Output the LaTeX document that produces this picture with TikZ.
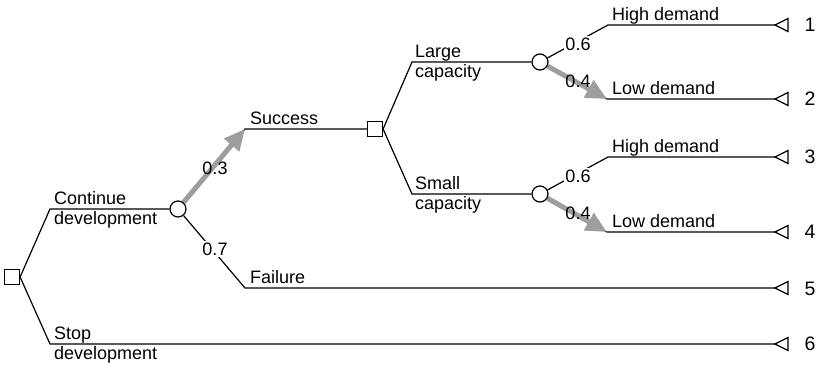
\documentclass[tikz,border=0pt]{standalone}
\usepackage{fontspec}
\setmainfont{Liberation Sans}
\usetikzlibrary{arrows.meta}
\pgfdeclarelayer{bg}
\pgfsetlayers{bg,main}
\definecolor{probgray}{RGB}{158,158,158}
\tikzset{
  txt/.style={font=\fontsize{18}{20}\selectfont, inner sep=0pt},
  outcome/.style={font=\fontsize{19.5}{22}\selectfont, inner sep=0pt},
  decision/.style={draw, rectangle, minimum size=15pt, inner sep=0pt, fill=white, line width=1.2pt},
  chance/.style={draw, circle, minimum size=16pt, inner sep=0pt, fill=white, line width=1.2pt},
  branch/.style={line width=1.2pt},
  terminal/.style={line width=1.2pt, fill=white},
  likely/.style={draw=probgray, line width=5pt, -{Triangle[length=21pt,width=19pt]}},
  prob/.style={txt, inner sep=1.5pt},
  probcut/.style={prob, fill=white},
}
\begin{document}
\begin{tikzpicture}[x=1pt, y=-1pt]
\useasboundingbox (0,0) rectangle (820,368);

% decision and chance nodes
\node[decision] (d0) at (12,277) {};
\node[chance]   (c1) at (178,209) {};
\node[decision] (d1) at (375,129) {};
\node[chance]   (c2) at (540,62) {};
\node[chance]   (c3) at (540,194) {};

% elbows of the branches
\coordinate (k-cont)  at (50,209);
\coordinate (k-stop)  at (50,344);
\coordinate (k-succ)  at (245,129);
\coordinate (k-fail)  at (245,288);
\coordinate (k-large) at (412,62);
\coordinate (k-small) at (412,194);
\coordinate (k-hd1)   at (608,25);
\coordinate (k-ld1)   at (607,99);
\coordinate (k-hd2)   at (608,157);
\coordinate (k-ld2)   at (607,232);

% end points (tips of the terminal triangles)
\coordinate (t1) at (775,25);
\coordinate (t2) at (775,99);
\coordinate (t3) at (775,157);
\coordinate (t4) at (775,232);
\coordinate (t5) at (775,288);
\coordinate (t6) at (775,344);

\begin{pgfonlayer}{bg}
  \draw[branch] (d0.east) -- (k-cont) -- (c1);
  \draw[branch] (d0.east) -- (k-stop) -- (t6);
  \draw[branch] (c1) -- (k-succ) -- (d1);
  \draw[branch] (c1) -- (k-fail) -- (t5);
  \draw[branch] (d1.east) -- (k-large) -- (c2);
  \draw[branch] (d1.east) -- (k-small) -- (c3);
  \draw[branch] (c2) -- (k-hd1) -- (t1);
  \draw[branch] (c2) -- (k-ld1) -- (t2);
  \draw[branch] (c3) -- (k-hd2) -- (t3);
  \draw[branch] (c3) -- (k-ld2) -- (t4);
  % most likely outcomes
  \draw[likely] (c1) -- (k-succ);
  \draw[likely] (c2) -- (k-ld1);
  \draw[likely] (c3) -- (k-ld2);
\end{pgfonlayer}

% terminal triangles
\foreach \t in {t1,t2,t3,t4,t5,t6}
  \draw[terminal] (\t) -- ++(13,-6.5) -- ++(0,13) -- cycle;

% outcome numbers
\node[outcome] (n1) at (810,25)  {1};
\node[outcome] (n2) at (810,99)  {2};
\node[outcome] (n3) at (810,157) {3};
\node[outcome] (n4) at (810,232) {4};
\node[outcome] (n5) at (810,289) {5};
\node[outcome] (n6) at (810,344) {6};

% branch labels
\node[txt, anchor=base west] (l-cont1)  at (54,204) {Continue};
\node[txt, anchor=base west] (l-cont2)  at (54,224) {development};
\node[txt, anchor=base west] (l-stop1)  at (54,339) {Stop};
\node[txt, anchor=base west] (l-stop2)  at (54,359) {development};
\node[txt, anchor=base west] (l-succ)   at (250,124) {Success};
\node[txt, anchor=base west] (l-fail)   at (250,283) {Failure};
\node[txt, anchor=base west] (l-large1) at (415,57) {Large};
\node[txt, anchor=base west] (l-large2) at (415,77) {capacity};
\node[txt, anchor=base west] (l-small1) at (415,189) {Small};
\node[txt, anchor=base west] (l-small2) at (415,209) {capacity};
\node[txt, anchor=base west] (l-hd1)    at (612,20) {High demand};
\node[txt, anchor=base west] (l-ld1)    at (612,94) {Low demand};
\node[txt, anchor=base west] (l-hd2)    at (612,152) {High demand};
\node[txt, anchor=base west] (l-ld2)    at (612,227) {Low demand};

% probabilities
\node[prob]    (p-succ) at (215,168) {0.3};
\node[probcut] (p-fail) at (215,249) {0.7};
\node[probcut] (p-hd1)  at (578,44)  {0.6};
\node[prob]    (p-ld1)  at (578,81)  {0.4};
\node[probcut] (p-hd2)  at (578,176) {0.6};
\node[prob]    (p-ld2)  at (578,213) {0.4};
\end{tikzpicture}
\end{document}
